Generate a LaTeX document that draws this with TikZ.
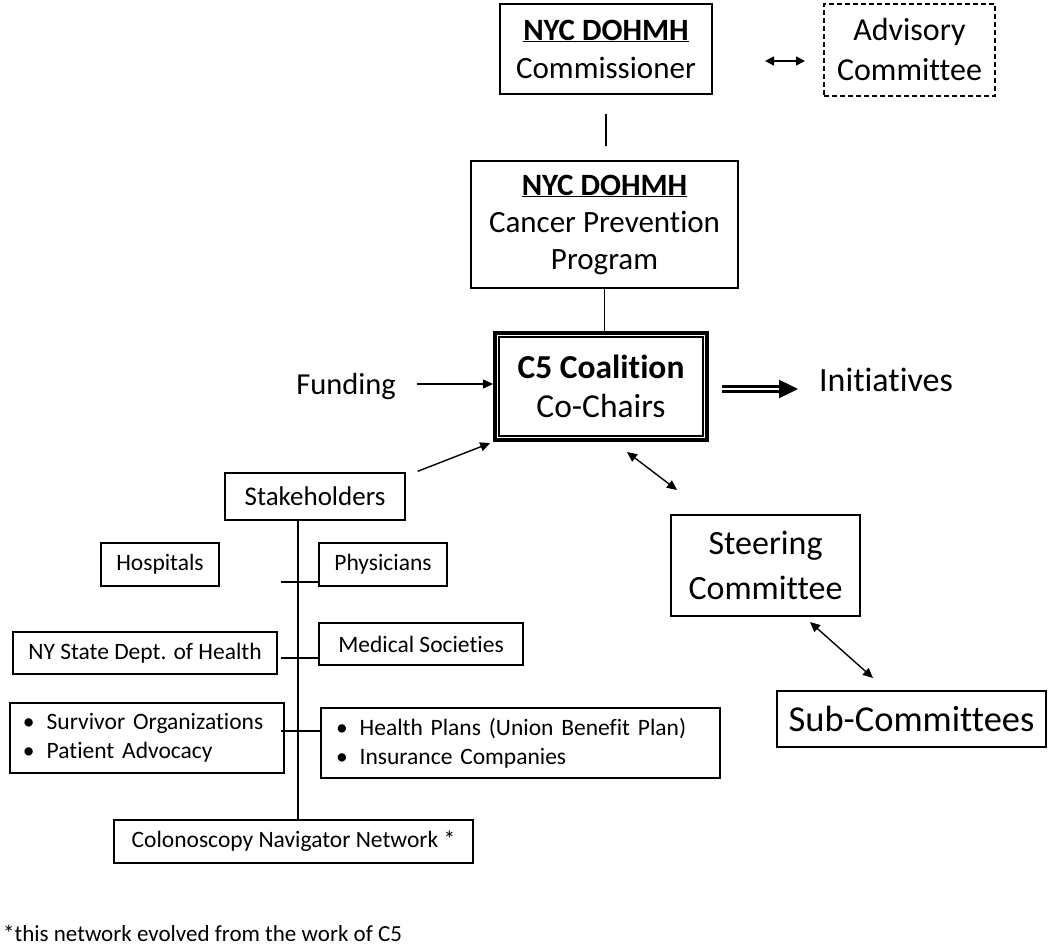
\documentclass[tikz,border=0pt]{standalone}
\usepackage{fontspec}
\setmainfont{Carlito}[Ligatures=NoCommon]
\usetikzlibrary{arrows.meta}
\newcommand{\fsz}[2]{\fontsize{#1}{#2}\selectfont}
\begin{document}
\begin{tikzpicture}[x=1pt,y=-1pt,
  box/.style={draw, line width=1.4pt, inner sep=0pt, align=center},
  conn/.style={line width=1.4pt},
  arr/.style={line width=1.4pt, -{Triangle[length=10pt,width=9pt]}},
  darr/.style={line width=1.4pt, {Triangle[length=10pt,width=9pt]}-{Triangle[length=10pt,width=9pt]}},
  sdarr/.style={line width=1.5pt, {Triangle[length=9pt,width=9pt]}-{Triangle[length=9pt,width=9pt]}},
  dblarr/.style={double, double distance=2.5pt, line width=2.4pt, -{Triangle[length=19pt,width=18pt]}},
  big/.style={font=\fsz{31}{38}},
  small/.style={font=\fsz{23.5}{28.5}},
  bullets/.style={draw, line width=1.4pt, inner ysep=0pt, align=left, font=\fsz{23.5}{29}},
]
\useasboundingbox (0,0) rectangle (1050,947);

% top
\node[box, big, minimum width=212pt, minimum height=90pt] (comm) at (606,49)
  {\underline{\textbf{NYC DOHMH}}\\Commissioner};
\node[box, font=\fsz{32}{40}, dashed, dash pattern=on 5pt off 3pt, line width=1.2pt,
  minimum width=171pt, minimum height=92pt] (adv) at (909.5,50) {Advisory\\Committee};
\node[box, font=\fsz{31}{37}, minimum width=267pt, minimum height=127pt] (cpp) at (604.5,224.5)
  {\underline{\textbf{NYC DOHMH}}\\Cancer Prevention\\Program};

% coalition
\node[box, line width=4pt, font=\fsz{33.5}{39}, minimum width=212pt, minimum height=107pt] (c5) at (601,386.5)
  {\textbf{C5 Coalition}\\Co-Chairs};
\draw[line width=1.4pt] ([xshift=6pt,yshift=-6pt]c5.north west) rectangle ([xshift=-6pt,yshift=6pt]c5.south east);

\node[font=\fsz{30.5}{36}, inner sep=0pt] (fund) at (346,387) {Funding};
\node[font=\fsz{34}{40}, inner sep=0pt] (init) at (886,380) {Initiatives};

% steering
\node[box, font=\fsz{34}{45}, minimum width=189pt, minimum height=101pt] (steer) at (765.5,565.5) {Steering\\Committee};
\node[box, font=\fsz{36.5}{40}, minimum width=269pt, minimum height=56pt] (sub) at (911.5,719) {Sub-Committees};

% stakeholders
\node[box, font=\fsz{27}{30}, minimum width=180pt, minimum height=47pt] (stake) at (315,496.5) {Stakeholders};
\node[box, small, minimum width=118pt, minimum height=43pt] (hosp) at (160,564.5) {Hospitals};
\node[box, small, minimum width=128pt, minimum height=43pt] (phys) at (383,564.5) {Physicians};
\node[box, small, minimum width=264pt, minimum height=42pt] (nys) at (145,653) {NY State Dept. of Health};
\node[box, small, minimum width=204pt, minimum height=42pt] (med) at (421,644) {Medical Societies};
\node[bullets, inner xsep=13pt, text width=248pt, minimum height=70pt] (surv) at (147,738)
  {\textbullet\hspace{12pt}Survivor Organizations\\\textbullet\hspace{12pt}Patient Advocacy};
\node[bullets, inner xsep=15pt, text width=369pt, minimum height=70pt] (hp) at (520.5,743)
  {\textbullet\hspace{12pt}Health Plans (Union Benefit Plan)\\\textbullet\hspace{12pt}Insurance Companies};
\node[box, small, minimum width=359pt, minimum height=43pt] (colon) at (293.5,841.5) {Colonoscopy Navigator Network *};

\node[anchor=base west, inner sep=0pt, font=\fsz{23}{26}] (note) at (3,941) {*this network evolved from the work of C5};

% connectors
\draw[conn, shorten <=19pt, shorten >=14pt] (comm.south) -- (comm.south |- cpp.north);
\draw[conn] (cpp.south) -- (cpp.south |- c5.north);
\coordinate (aa) at (765,61);
\coordinate (ab) at (805,61);
\draw[sdarr] (aa) -- (ab);

\coordinate (fa) at (417,384);
\draw[arr] (fa) -- (fa -| c5.west);
\draw[arr, shorten >=3pt] ([xshift=12pt,yshift=1pt]stake.north east) -- (c5.south west);

\coordinate (ia) at (722,389);
\coordinate (ib) at (798,389);
\draw[dblarr] (ia) -- (ib);

\coordinate (ca) at (627,452);
\coordinate (cb) at (677,490);
\draw[darr] (ca) -- (cb);
\coordinate (sa) at (810,622);
\coordinate (sb) at (873,678);
\draw[darr] (sa) -- (sb);

% stakeholder tree
\coordinate (trunk) at (298,0);
\draw[conn] (stake.south -| trunk) -- (colon.north -| trunk);
\coordinate (t1) at (281,582);
\coordinate (t2) at (281,658);
\coordinate (t3) at (281,731);
\draw[conn] (t1) -- (t1 -| phys.west);
\draw[conn] (t2) -- (t2 -| med.west);
\draw[conn] (t3) -- (t3 -| hp.west);
\end{tikzpicture}
\end{document}
